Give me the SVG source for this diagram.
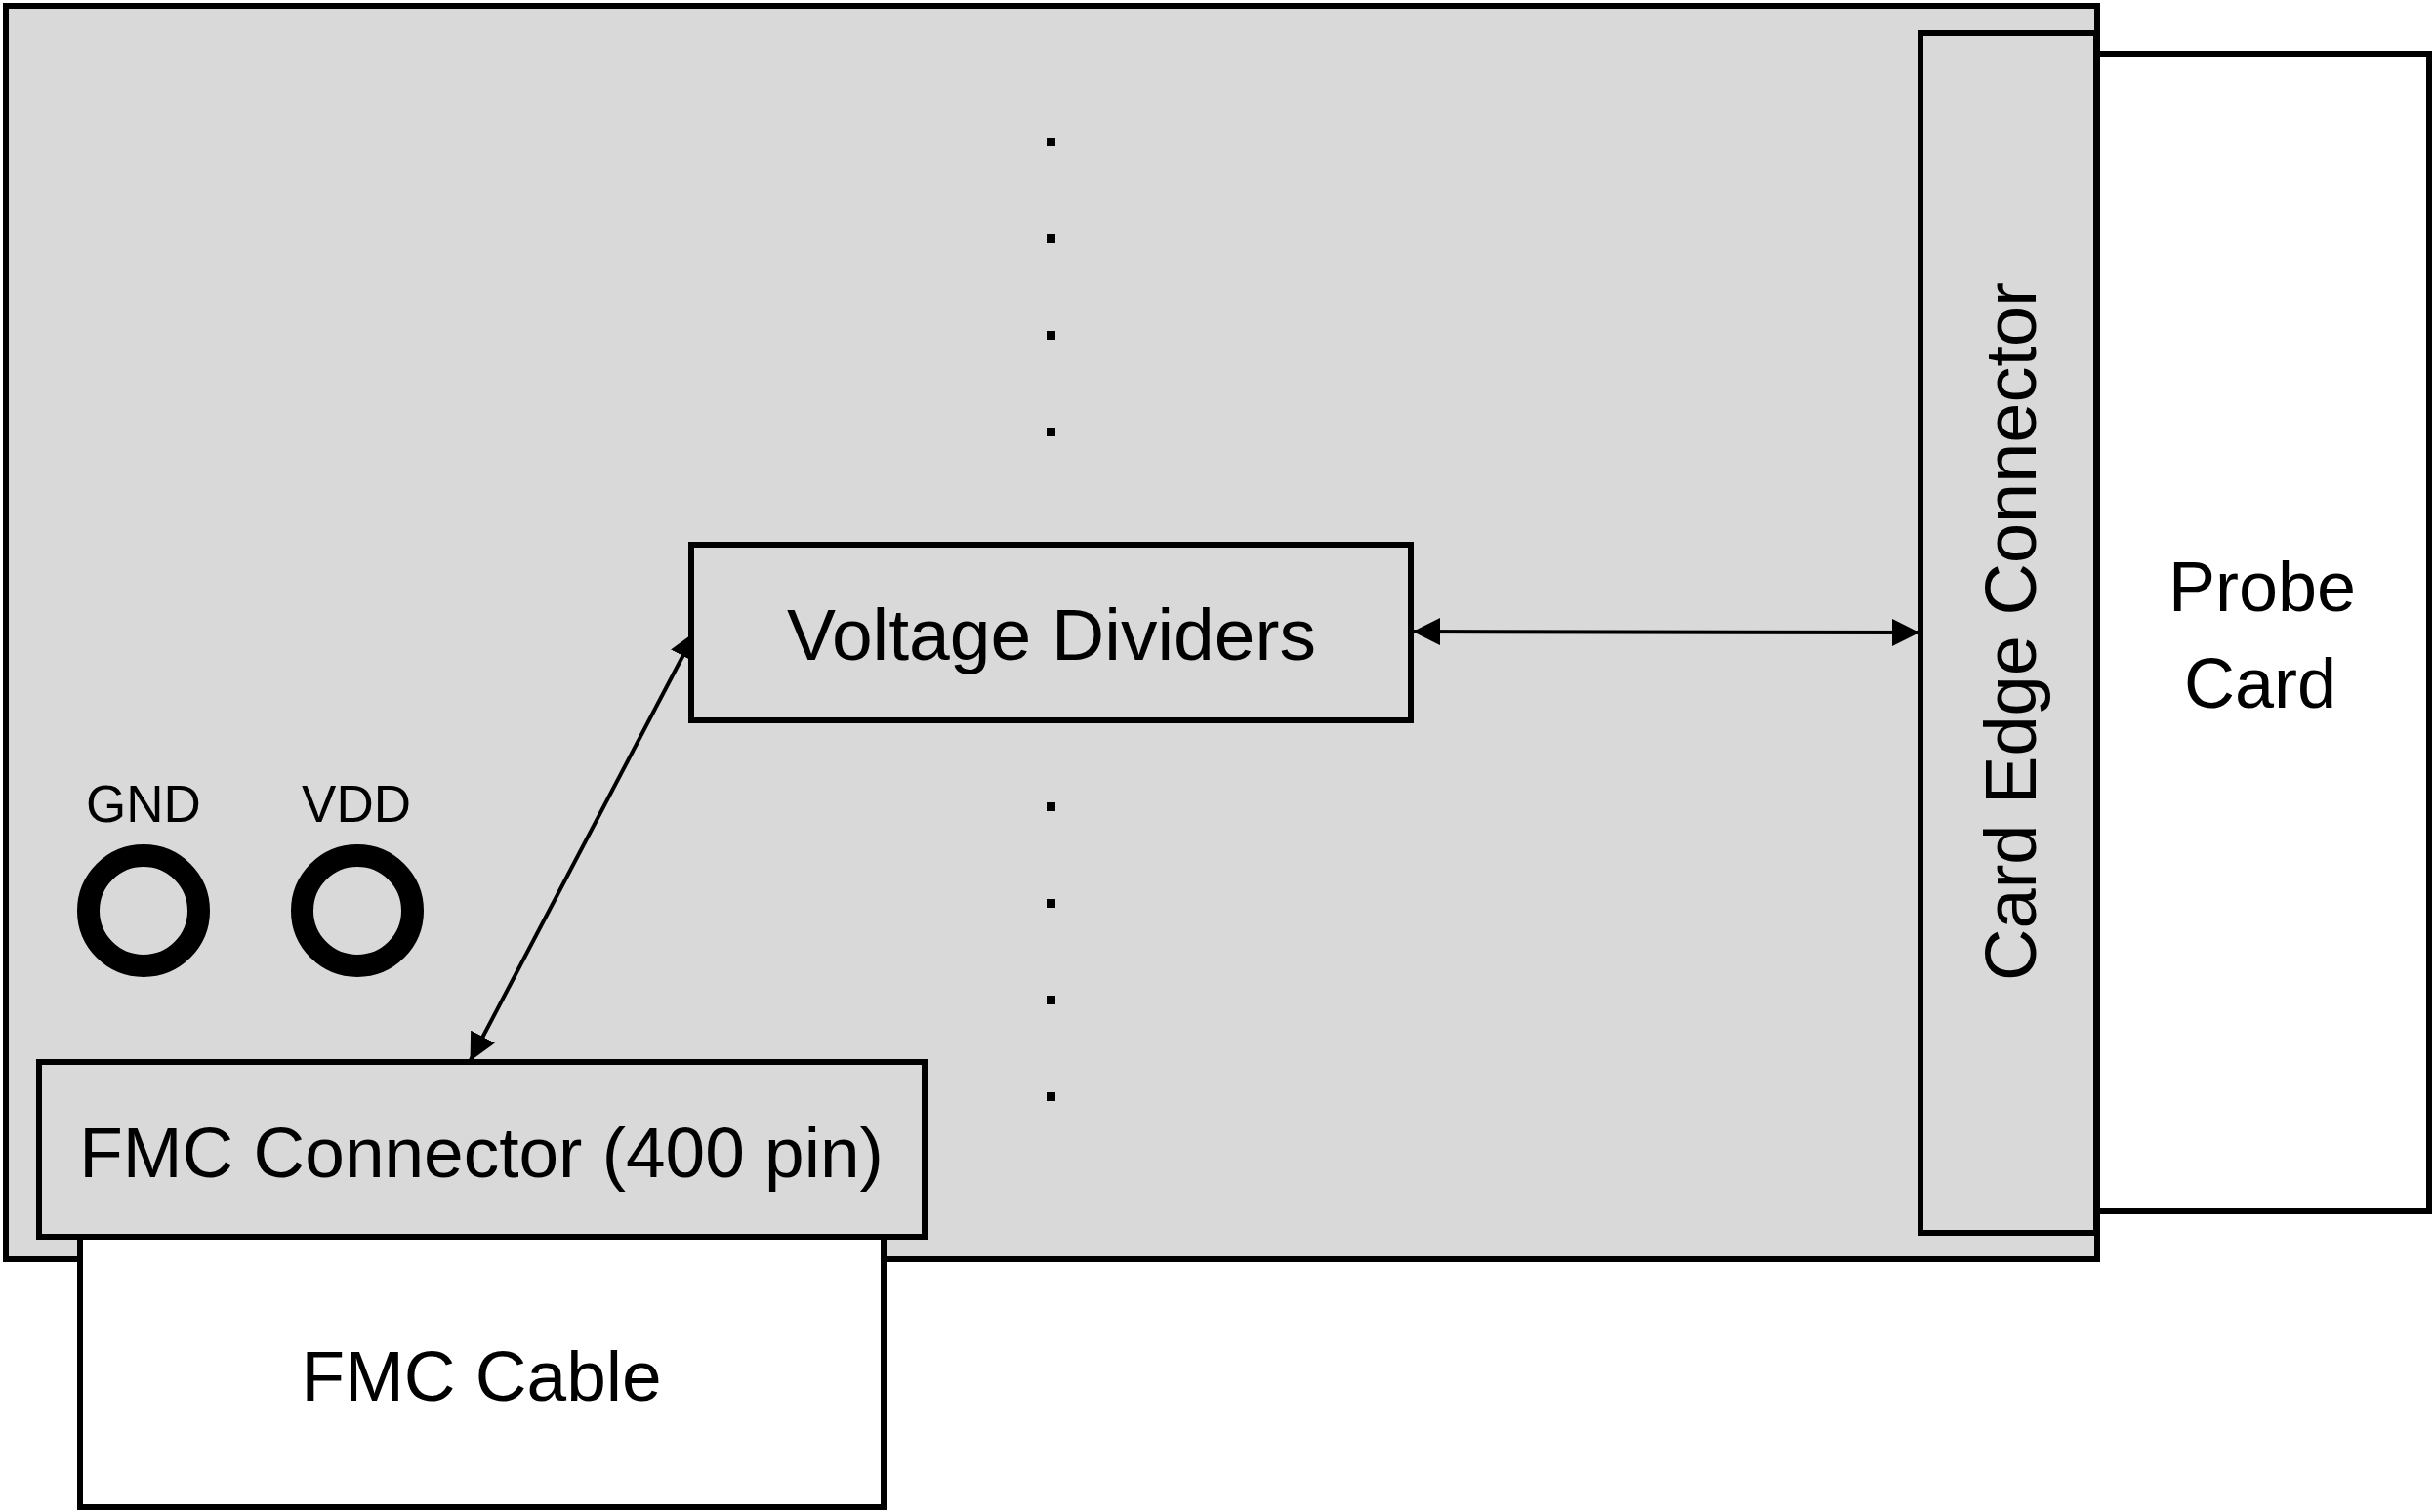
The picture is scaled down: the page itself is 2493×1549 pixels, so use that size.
<svg xmlns="http://www.w3.org/2000/svg" width="2493" height="1549" viewBox="0 0 2493 1549">
<style>
.box{stroke:#000;stroke-width:6;stroke-linejoin:miter}
.gray{fill:#d9d9d9}
.white{fill:#fff}
.lbl{font-family:"Liberation Sans",Arial,sans-serif;fill:#000;text-anchor:middle}
.conn{stroke:#000;stroke-width:4;fill:none}
.dot{fill:#000}
.ring{fill:none;stroke:#000;stroke-width:23}
</style>
<defs>
<marker id="ah" viewBox="0 0 28 28" refX="27" refY="14" markerWidth="28" markerHeight="28" markerUnits="userSpaceOnUse" orient="auto-start-reverse">
<path d="M0,0 L28,14 L0,28 Z" fill="#000"/>
</marker>
</defs>
<g id="probe-card">
<rect class="box white" x="2148" y="55" width="340" height="1186"/>
<text class="lbl" x="2317" y="626" font-size="72">Probe</text>
<text class="lbl" x="2315" y="725" font-size="72">Card</text>
</g>
<g id="board">
<rect class="box gray" x="6" y="6" width="2142" height="1284"/>
</g>
<g id="dots">
<rect class="dot" x="1072" y="141" width="9" height="9"/>
<rect class="dot" x="1072" y="240" width="9" height="9"/>
<rect class="dot" x="1072" y="339" width="9" height="9"/>
<rect class="dot" x="1072" y="438" width="9" height="9"/>
<rect class="dot" x="1072" y="822" width="9" height="9"/>
<rect class="dot" x="1072" y="921" width="9" height="9"/>
<rect class="dot" x="1072" y="1020" width="9" height="9"/>
<rect class="dot" x="1072" y="1119" width="9" height="9"/>
</g>
<g id="connectors">
<line class="conn" x1="712" y1="648" x2="482" y2="1086" marker-start="url(#ah)" marker-end="url(#ah)"/>
<line class="conn" x1="1448" y1="647" x2="1965" y2="648" marker-start="url(#ah)" marker-end="url(#ah)"/>
</g>
<g id="voltage-dividers">
<rect class="box gray" x="708" y="558" width="737" height="180"/>
<text class="lbl" x="1077" y="676" font-size="75">Voltage Dividers</text>
</g>
<g id="card-edge-connector">
<rect class="box gray" x="1967" y="34" width="180" height="1229"/>
<text class="lbl" font-size="74" transform="translate(2085,647) rotate(-90)">Card Edge Connector</text>
</g>
<g id="gnd">
<text class="lbl" x="147" y="842" font-size="53">GND</text>
<circle class="ring" cx="147" cy="933" r="56.5"/>
</g>
<g id="vdd">
<text class="lbl" x="365" y="842" font-size="53">VDD</text>
<circle class="ring" cx="366" cy="933" r="56.5"/>
</g>
<g id="fmc-cable">
<rect class="box white" x="82" y="1267" width="823" height="277"/>
<text class="lbl" x="493" y="1435" font-size="73">FMC Cable</text>
</g>
<g id="fmc-connector">
<rect class="box gray" x="40" y="1088" width="907" height="179"/>
<text class="lbl" x="493" y="1206" font-size="73">FMC Connector (400 pin)</text>
</g>
</svg>
